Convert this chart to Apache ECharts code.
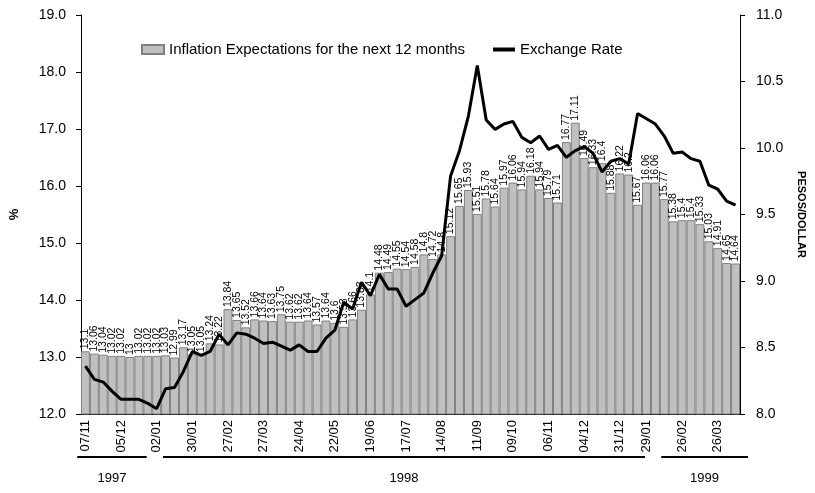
<!DOCTYPE html>
<html>
<head>
<meta charset="utf-8">
<script src="https://cdn.jsdelivr.net/npm/echarts@6/dist/echarts.min.js"></script>
<style>
  html, body { margin: 0; padding: 0; background: #fff; }
  #chart { width: 815px; height: 493px; }
</style>
</head>
<body>
<div id="chart"></div>
<script>
// weekly observations, 07/11/1997 .. 09/04/1999
const weeks = [
  '07/11/97', '14/11/97', '21/11/97', '28/11/97', '05/12/97', '12/12/97', '19/12/97', '26/12/97',
  '02/01/98', '09/01/98', '16/01/98', '23/01/98', '30/01/98', '06/02/98', '13/02/98', '20/02/98',
  '27/02/98', '06/03/98', '13/03/98', '20/03/98', '27/03/98', '03/04/98', '10/04/98', '17/04/98',
  '24/04/98', '01/05/98', '08/05/98', '15/05/98', '22/05/98', '29/05/98', '05/06/98', '12/06/98',
  '19/06/98', '26/06/98', '03/07/98', '10/07/98', '17/07/98', '24/07/98', '31/07/98', '07/08/98',
  '14/08/98', '21/08/98', '28/08/98', '04/09/98', '11/09/98', '18/09/98', '25/09/98', '02/10/98',
  '09/10/98', '16/10/98', '23/10/98', '30/10/98', '06/11/98', '13/11/98', '20/11/98', '27/11/98',
  '04/12/98', '11/12/98', '18/12/98', '24/12/98', '31/12/98', '15/01/99', '22/01/99', '29/01/99',
  '05/02/99', '12/02/99', '19/02/99', '26/02/99', '05/03/99', '12/03/99', '19/03/99', '26/03/99',
  '02/04/99', '09/04/99'
]
const labelWeeks = [
  '07/11/97', '05/12/97', '02/01/98', '30/01/98', '27/02/98', '27/03/98', '24/04/98', '22/05/98',
  '19/06/98', '17/07/98', '14/08/98', '11/09/98', '09/10/98', '06/11/98', '04/12/98', '31/12/98',
  '29/01/99', '26/02/99', '26/03/99'
]
const inflationExp = [
  13.1, 13.06, 13.04, 13.02, 13.02, 13, 13.02, 13.02, 13.02, 13.03, 12.99, 13.17, 13.05, 13.05,
  13.24, 13.22, 13.84, 13.65, 13.52, 13.66, 13.64, 13.63, 13.75, 13.62, 13.62, 13.64, 13.57, 13.64,
  13.6, 13.53, 13.66, 13.83, 14.1, 14.48, 14.49, 14.55, 14.54, 14.58, 14.8, 14.72, 14.8, 15.12,
  15.65, 15.93, 15.51, 15.78, 15.64, 15.97, 16.06, 15.94, 16.18, 15.94, 15.79, 15.71, 16.77, 17.11,
  16.49, 16.33, 16.4, 15.88, 16.22, 16.2, 15.67, 16.06, 16.06, 15.77, 15.38, 15.4, 15.4, 15.33,
  15.03, 14.91, 14.65, 14.64
]
const exchangeRate = [
  8.36, 8.26, 8.24, 8.17, 8.11, 8.11, 8.11, 8.08, 8.04, 8.19, 8.2, 8.32, 8.47, 8.44,
  8.47, 8.6, 8.52, 8.61, 8.6, 8.57, 8.53, 8.54, 8.51, 8.48, 8.52, 8.47, 8.47, 8.57,
  8.63, 8.84, 8.79, 8.99, 8.89, 9.05, 8.94, 8.94, 8.81, 8.86, 8.91, 9.06, 9.19, 9.79,
  9.98, 10.24, 10.62, 10.21, 10.14, 10.18, 10.2, 10.08, 10.04, 10.09, 9.99, 10.02, 9.93, 9.98,
  10.01, 9.96, 9.82, 9.9, 9.92, 9.88, 10.26, 10.22, 10.18, 10.09, 9.96, 9.97, 9.92, 9.9,
  9.72, 9.69, 9.6, 9.57
]
const years = ['1997', '1998', '1999']
// where the year underlines run, in bar units
const yearSpans = [[-0.2, 7.5], [9.3, 62.7], [64.5, 74.1]]

const FONT = 'Liberation Sans, Arial, sans-serif'
const gridLeft = 79, gridRight = 68, gridTop = 15, gridBottom = 79
const W = 815, H = 493
const band = (W - gridLeft - gridRight) / weeks.length

const chart = echarts.init(document.getElementById('chart'))

const yearGraphics = []
yearSpans.forEach((s, i) => {
  const x1 = gridLeft + s[0] * band
  const x2 = gridLeft + s[1] * band
  yearGraphics.push({
    type: 'line',
    shape: { x1: x1, y1: 457, x2: x2, y2: 457 },
    style: { stroke: '#000', lineWidth: 2 }
  })
  yearGraphics.push({
    type: 'text',
    x: (x1 + x2) / 2,
    y: 478,
    style: { text: years[i], font: '13px ' + FONT, fill: '#000', align: 'center', verticalAlign: 'middle' }
  })
})

chart.setOption({
  animation: false,
  textStyle: { fontFamily: FONT },
  grid: { left: gridLeft, right: gridRight, top: gridTop, bottom: gridBottom },
  legend: {
    left: 136,
    top: 37,
    itemWidth: 22,
    itemHeight: 9,
    itemGap: 28,
    textStyle: { fontSize: 15, color: '#000', fontFamily: FONT },
    data: [
      { name: 'Inflation Expectations for the next 12 months', icon: 'rect' },
      { name: 'Exchange Rate', icon: 'path://M0,0H22V4H0Z' }
    ]
  },
  xAxis: {
    type: 'category',
    data: weeks,
    axisLine: { lineStyle: { color: '#000' } },
    axisTick: { interval: 0, length: 4, lineStyle: { color: '#000' } },
    axisLabel: {
      interval: (idx, val) => labelWeeks.includes(val),
      formatter: v => v.slice(0, 5),
      rotate: 90,
      margin: 6,
      fontSize: 13,
      color: '#000'
    }
  },
  yAxis: [
    {
      type: 'value',
      min: 12,
      max: 19,
      interval: 1,
      name: '%',
      nameLocation: 'middle',
      nameRotate: 90,
      nameGap: 60,
      nameTextStyle: { fontSize: 13, fontWeight: 'bold', color: '#000' },
      axisLine: { show: true, lineStyle: { color: '#000' } },
      axisTick: { show: true, length: 5, lineStyle: { color: '#000' } },
      axisLabel: { formatter: v => v.toFixed(1), fontSize: 14, color: '#000', margin: 15 },
      splitLine: { show: false }
    },
    {
      type: 'value',
      min: 8,
      max: 11,
      interval: 0.5,
      name: 'PESOS/DOLLAR',
      nameLocation: 'middle',
      nameRotate: -90,
      nameGap: 56,
      nameTextStyle: { fontSize: 11, fontWeight: 'bold', color: '#000' },
      axisLine: { show: true, lineStyle: { color: '#000' } },
      axisTick: { show: true, length: 5, lineStyle: { color: '#000' } },
      axisLabel: { formatter: v => v.toFixed(1), fontSize: 14, color: '#000', margin: 16 },
      splitLine: { show: false }
    }
  ],
  series: [
    {
      name: 'Inflation Expectations for the next 12 months',
      type: 'bar',
      data: inflationExp,
      barCategoryGap: 0,
      itemStyle: { color: '#c0c0c0', borderColor: '#808080', borderWidth: 1 },
      label: {
        show: true,
        position: 'top',
        rotate: 90,
        align: 'left',
        verticalAlign: 'middle',
        distance: 2,
        fontSize: 10.5,
        color: '#000'
      }
    },
    {
      name: 'Exchange Rate',
      type: 'line',
      yAxisIndex: 1,
      data: exchangeRate,
      showSymbol: false,
      symbol: 'none',
      itemStyle: { color: '#000' },
      lineStyle: { color: '#000', width: 3 }
    }
  ],
  graphic: yearGraphics
})
</script>
</body>
</html>
